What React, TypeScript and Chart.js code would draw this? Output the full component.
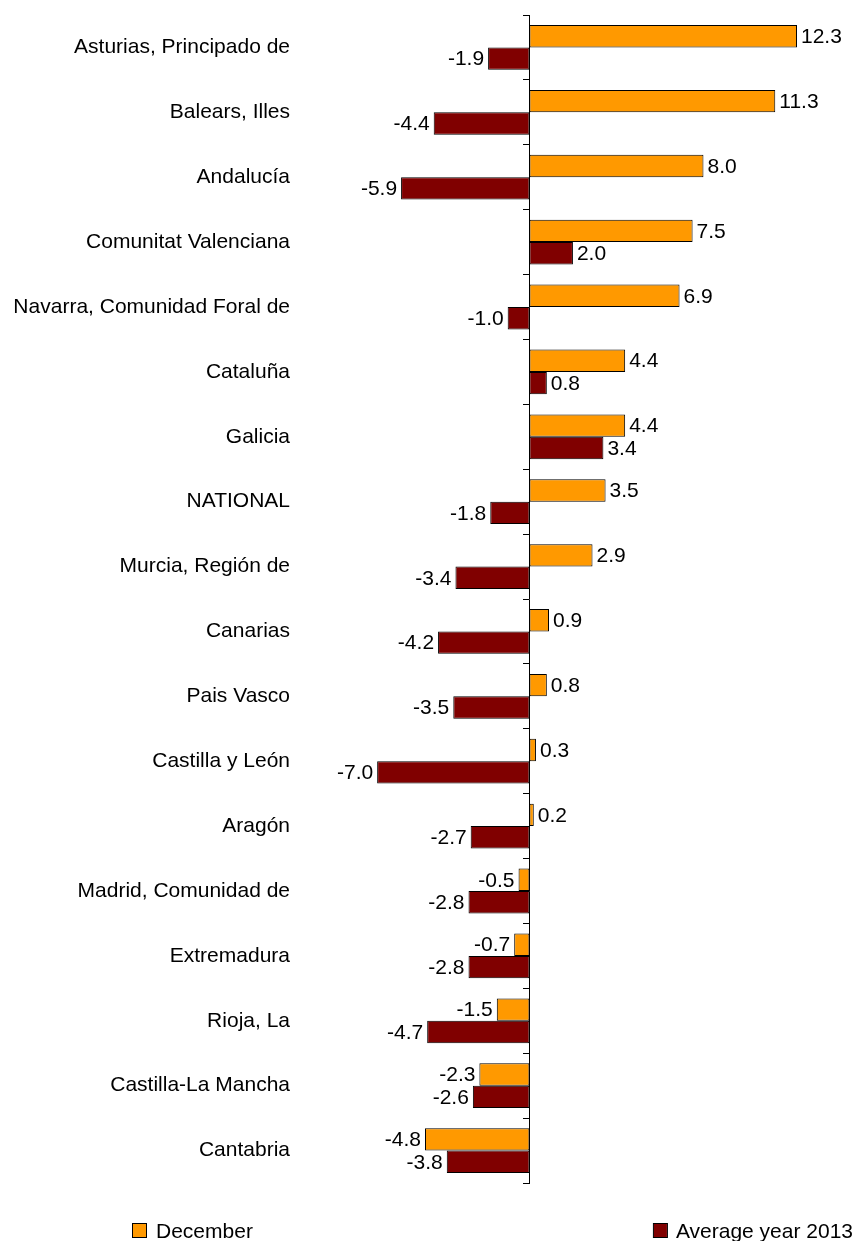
import React, { useEffect, useRef } from "react";
import { Chart, registerables } from "chart.js";

Chart.register(...registerables);

const regions = [
  "Asturias, Principado de",
  "Balears, Illes",
  "Andalucía",
  "Comunitat Valenciana",
  "Navarra, Comunidad Foral de",
  "Cataluña",
  "Galicia",
  "NATIONAL",
  "Murcia, Región de",
  "Canarias",
  "Pais Vasco",
  "Castilla y León",
  "Aragón",
  "Madrid, Comunidad de",
  "Extremadura",
  "Rioja, La",
  "Castilla-La Mancha",
  "Cantabria",
];

const december = [12.3, 11.3, 8.0, 7.5, 6.9, 4.4, 4.4, 3.5, 2.9, 0.9, 0.8, 0.3, 0.2, -0.5, -0.7, -1.5, -2.3, -4.8];
const averageYear = [-1.9, -4.4, -5.9, 2.0, -1.0, 0.8, 3.4, -1.8, -3.4, -4.2, -3.5, -7.0, -2.7, -2.8, -2.8, -4.7, -2.6, -3.8];

const seriesNames = ["December", "Average year 2013"];
const seriesColors = ["#FF9900", "#800000"];

const FONT = "'Liberation Sans', Arial, sans-serif";

const valueLabels = {
  id: "valueLabels",
  afterDatasetsDraw(chart: any) {
    const ctx = chart.ctx;
    ctx.save();
    ctx.font = `21px ${FONT}`;
    ctx.fillStyle = "#000";
    ctx.textBaseline = "middle";
    chart.data.datasets.forEach((ds: any, di: number) => {
      const meta = chart.getDatasetMeta(di);
      meta.data.forEach((bar: any, i: number) => {
        const v = ds.data[i];
        const txt = v.toFixed(1);
        if (v >= 0) {
          ctx.textAlign = "left";
          ctx.fillText(txt, bar.x + 4, bar.y + 1);
        } else {
          ctx.textAlign = "right";
          ctx.fillText(txt, bar.x - 4, bar.y + 1);
        }
      });
    });
    ctx.restore();
  },
};

const bottomLegend = {
  id: "bottomLegend",
  afterDraw(chart: any) {
    const ctx = chart.ctx;
    ctx.save();
    ctx.font = `21px ${FONT}`;
    ctx.textBaseline = "middle";
    const y = chart.height - 10;
    const size = 13;
    const ds = chart.data.datasets;
    ctx.strokeStyle = "#000";
    ctx.lineWidth = 1;
    // left item
    ctx.fillStyle = ds[0].backgroundColor;
    ctx.fillRect(133, y - 7, size, size);
    ctx.strokeRect(132.5, y - 7.5, size + 1, size + 1);
    ctx.fillStyle = "#000";
    ctx.textAlign = "left";
    ctx.fillText(ds[0].label, 156, y + 1);
    // right item
    const w = ctx.measureText(ds[1].label).width;
    const tx = chart.width - 1 - w;
    ctx.fillStyle = ds[1].backgroundColor;
    ctx.fillRect(tx - 22, y - 7, size, size);
    ctx.strokeRect(tx - 22.5, y - 7.5, size + 1, size + 1);
    ctx.fillStyle = "#000";
    ctx.fillText(ds[1].label, tx, y + 1);
    ctx.restore();
  },
};

export default function App() {
  const ref = useRef<HTMLCanvasElement>(null);
  useEffect(() => {
    if (!ref.current) return;
    const chart = new Chart(ref.current, {
      type: "bar",
      data: {
        labels: regions,
        datasets: [
          {
            label: seriesNames[0],
            data: december,
            backgroundColor: seriesColors[0],
            borderColor: "#000",
            borderWidth: 1,
            borderSkipped: false,
            categoryPercentage: 0.69,
            barPercentage: 1,
          },
          {
            label: seriesNames[1],
            data: averageYear,
            backgroundColor: seriesColors[1],
            borderColor: "#000",
            borderWidth: 1,
            borderSkipped: false,
            categoryPercentage: 0.69,
            barPercentage: 1,
          },
        ],
      },
      options: {
        indexAxis: "y",
        animation: false,
        responsive: false,
        maintainAspectRatio: false,
        layout: { padding: { top: 15, bottom: 58, left: 0, right: 20 } },
        plugins: { legend: { display: false }, tooltip: { enabled: false } },
        scales: {
          x: {
            type: "linear",
            min: -10.5,
            max: 14,
            display: false,
          },
          y: {
            type: "category",
            position: "left",
            offset: true,
            grid: { display: false, drawTicks: false },
            border: { display: false },
            ticks: {
              color: "#000",
              padding: 11,
              font: { family: FONT, size: 21 },
            },
            afterFit: (scale: any) => {
              scale.width = 301;
              scale.paddingTop = 0;
              scale.paddingBottom = 0;
            },
          },
          y2: {
            type: "category",
            position: { x: 0 },
            offset: true,
            grid: {
              offset: true,
              drawOnChartArea: false,
              drawTicks: true,
              tickLength: 6,
              color: "#000",
              lineWidth: 1,
            },
            border: { display: true, color: "#000", width: 1 },
            ticks: { display: false },
            afterFit: (scale: any) => {
              scale.paddingTop = 0;
              scale.paddingBottom = 0;
            },
          },
        },
      },
      plugins: [valueLabels, bottomLegend],
    });
    return () => chart.destroy();
  }, []);
  return (
    <div style={{ position: "absolute", left: 0, top: 0, width: 854, height: 1241, background: "#fff" }}>
      <canvas ref={ref} width={854} height={1241} style={{ width: 854, height: 1241 }} />
    </div>
  );
}
